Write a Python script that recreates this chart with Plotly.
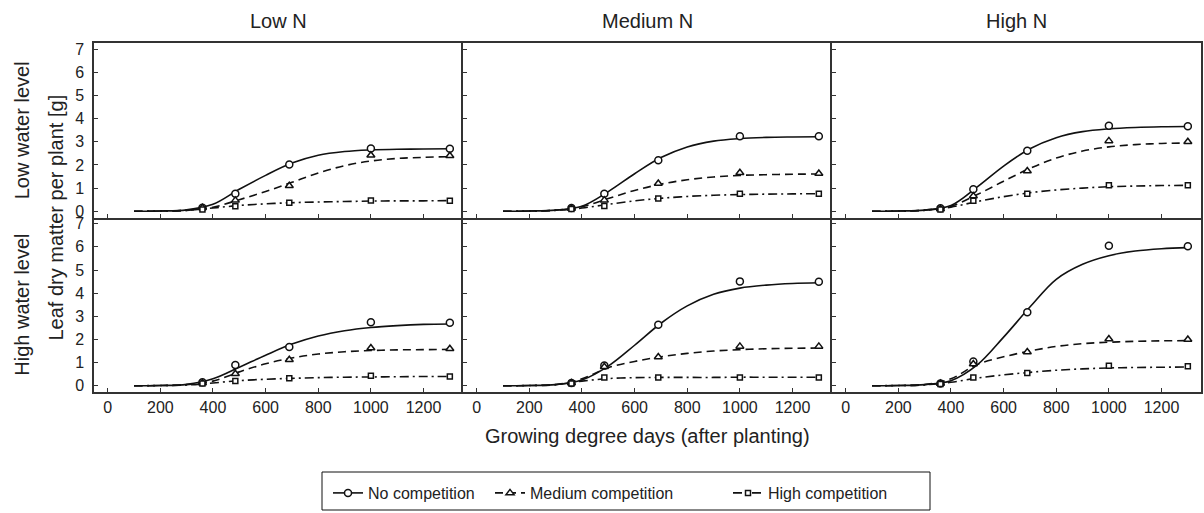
import plotly.graph_objects as go
from plotly.subplots import make_subplots

col_titles = ["Low N", "Medium N", "High N"]
row_titles = ["Low water level", "High water level"]
series_names = ["No competition", "Medium competition", "High competition"]
x_title = "Growing degree days (after planting)"
y_title = "Leaf dry matter per plant [g]"
x_ticks = [0, 200, 400, 600, 800, 1000, 1200]
y_ticks = [0, 1, 2, 3, 4, 5, 6, 7]

obs_x = [360, 485, 690, 1000, 1300]
curve_x = [100, 200, 300, 400, 500, 600, 700, 800, 900, 1000, 1100, 1200, 1300]

# Low water level, Low N
obs_lw_lown_no = [0.15, 0.76, 2.02, 2.71, 2.70]
obs_lw_lown_med = [0.15, 0.47, 1.10, 2.42, 2.40]
obs_lw_lown_high = [0.08, 0.22, 0.37, 0.46, 0.45]
fit_lw_lown_no = [0.0, 0.01, 0.06, 0.30, 0.95, 1.55, 2.08, 2.42, 2.58, 2.65, 2.68, 2.69, 2.70]
fit_lw_lown_med = [0.0, 0.01, 0.04, 0.17, 0.50, 0.85, 1.25, 1.65, 1.97, 2.17, 2.28, 2.33, 2.36]
fit_lw_lown_high = [0.0, 0.01, 0.04, 0.14, 0.25, 0.32, 0.37, 0.40, 0.42, 0.44, 0.45, 0.45, 0.46]

# Low water level, Medium N
obs_lw_medn_no = [0.14, 0.76, 2.20, 3.24, 3.24]
obs_lw_medn_med = [0.12, 0.48, 1.20, 1.66, 1.63]
obs_lw_medn_high = [0.10, 0.23, 0.55, 0.76, 0.76]
fit_lw_medn_no = [0.0, 0.01, 0.05, 0.22, 0.85, 1.62, 2.32, 2.78, 3.03, 3.14, 3.19, 3.21, 3.22]
fit_lw_medn_med = [0.0, 0.01, 0.05, 0.20, 0.55, 0.90, 1.17, 1.36, 1.48, 1.55, 1.58, 1.60, 1.61]
fit_lw_medn_high = [0.0, 0.01, 0.04, 0.14, 0.30, 0.45, 0.56, 0.64, 0.69, 0.72, 0.74, 0.75, 0.76]

# Low water level, High N
obs_lw_highn_no = [0.13, 0.95, 2.61, 3.69, 3.67]
obs_lw_highn_med = [0.10, 0.66, 1.74, 3.04, 3.00]
obs_lw_highn_high = [0.08, 0.45, 0.76, 1.12, 1.12]
fit_lw_highn_no = [0.0, 0.01, 0.05, 0.25, 1.05, 1.95, 2.70, 3.18, 3.44, 3.56, 3.62, 3.65, 3.66]
fit_lw_highn_med = [0.0, 0.01, 0.05, 0.22, 0.72, 1.30, 1.85, 2.30, 2.60, 2.78, 2.88, 2.93, 2.95]
fit_lw_highn_high = [0.0, 0.01, 0.04, 0.18, 0.42, 0.63, 0.80, 0.92, 1.00, 1.06, 1.09, 1.11, 1.12]

# High water level, Low N
obs_hw_lown_no = [0.15, 0.90, 1.67, 2.74, 2.72]
obs_hw_lown_med = [0.12, 0.52, 1.12, 1.63, 1.60]
obs_hw_lown_high = [0.10, 0.20, 0.32, 0.43, 0.40]
fit_hw_lown_no = [0.0, 0.01, 0.06, 0.30, 0.80, 1.32, 1.80, 2.15, 2.38, 2.52, 2.60, 2.65, 2.67]
fit_hw_lown_med = [0.0, 0.01, 0.05, 0.20, 0.60, 0.95, 1.20, 1.37, 1.47, 1.52, 1.55, 1.56, 1.57]
fit_hw_lown_high = [0.0, 0.01, 0.03, 0.12, 0.22, 0.28, 0.32, 0.35, 0.37, 0.38, 0.39, 0.40, 0.40]

# High water level, Medium N
obs_hw_medn_no = [0.12, 0.88, 2.64, 4.51, 4.49]
obs_hw_medn_med = [0.12, 0.82, 1.24, 1.70, 1.70]
obs_hw_medn_high = [0.10, 0.36, 0.36, 0.36, 0.36]
fit_hw_medn_no = [0.0, 0.01, 0.05, 0.25, 0.85, 1.75, 2.70, 3.45, 3.95, 4.22, 4.35, 4.42, 4.45]
fit_hw_medn_med = [0.0, 0.01, 0.05, 0.30, 0.78, 1.05, 1.25, 1.40, 1.50, 1.56, 1.60, 1.62, 1.63]
fit_hw_medn_high = [0.0, 0.01, 0.05, 0.20, 0.31, 0.35, 0.36, 0.36, 0.36, 0.37, 0.37, 0.37, 0.37]

# High water level, High N
obs_hw_highn_no = [0.10, 1.05, 3.18, 6.05, 6.03]
obs_hw_highn_med = [0.10, 0.94, 1.46, 2.02, 2.00]
obs_hw_highn_high = [0.08, 0.36, 0.55, 0.86, 0.84]
fit_hw_highn_no = [0.0, 0.01, 0.05, 0.22, 0.90, 2.10, 3.40, 4.60, 5.25, 5.62, 5.82, 5.92, 5.97]
fit_hw_highn_med = [0.0, 0.01, 0.05, 0.30, 0.92, 1.25, 1.50, 1.70, 1.82, 1.88, 1.92, 1.94, 1.95]
fit_hw_highn_high = [0.0, 0.01, 0.04, 0.15, 0.33, 0.47, 0.58, 0.67, 0.73, 0.77, 0.79, 0.80, 0.81]

panels = [
    (1, 1, [obs_lw_lown_no, obs_lw_lown_med, obs_lw_lown_high], [fit_lw_lown_no, fit_lw_lown_med, fit_lw_lown_high]),
    (1, 2, [obs_lw_medn_no, obs_lw_medn_med, obs_lw_medn_high], [fit_lw_medn_no, fit_lw_medn_med, fit_lw_medn_high]),
    (1, 3, [obs_lw_highn_no, obs_lw_highn_med, obs_lw_highn_high], [fit_lw_highn_no, fit_lw_highn_med, fit_lw_highn_high]),
    (2, 1, [obs_hw_lown_no, obs_hw_lown_med, obs_hw_lown_high], [fit_hw_lown_no, fit_hw_lown_med, fit_hw_lown_high]),
    (2, 2, [obs_hw_medn_no, obs_hw_medn_med, obs_hw_medn_high], [fit_hw_medn_no, fit_hw_medn_med, fit_hw_medn_high]),
    (2, 3, [obs_hw_highn_no, obs_hw_highn_med, obs_hw_highn_high], [fit_hw_highn_no, fit_hw_highn_med, fit_hw_highn_high]),
]

dashes = ["solid", "8px,5px", "9px,4px,2px,4px"]
symbols = ["circle", "triangle-up", "square"]
msizes = [7, 7, 5]
ink = "#111111"
frame = "#333333"
FONT = "Liberation Sans, Arial, sans-serif"

# layout in pixels
W, H = 1204, 513
ML, MR, MT, MB = 94, 3, 43, 121
PW, PH = W - ML - MR, H - MT - MB


def px_x(p):
    return (p - ML) / PW


def px_y(p):
    return (H - MB - p) / PH


fig = make_subplots(rows=2, cols=3, horizontal_spacing=0, vertical_spacing=0)

for r, c, obs_list, fit_list in panels:
    for k in range(3):
        fig.add_trace(go.Scatter(
            x=curve_x, y=fit_list[k], mode="lines",
            line=dict(color=ink, width=1.6, dash=dashes[k], shape="spline", smoothing=1.0),
            showlegend=False, hoverinfo="skip"), row=r, col=c)
    for k in range(3):
        fig.add_trace(go.Scatter(
            x=obs_x, y=obs_list[k], mode="markers",
            marker=dict(symbol=symbols[k], size=msizes[k], color="white",
                        line=dict(color=ink, width=1.5)),
            showlegend=False), row=r, col=c)

legend_widths = [117, 193, 140]
for k in range(3):
    fig.add_trace(go.Scatter(
        x=[None], y=[None], mode="lines+markers", name=series_names[k],
        line=dict(color=ink, width=1.6, dash=dashes[k]),
        marker=dict(symbol=symbols[k], size=msizes[k], color="white",
                    line=dict(color=ink, width=1.5)),
        legendwidth=legend_widths[k], showlegend=True), row=1, col=1)

for r in (1, 2):
    for c in (1, 2, 3):
        fig.update_xaxes(
            range=[-52, 1350], tickvals=x_ticks, ticks="inside", ticklen=4,
            tickcolor=frame, showticklabels=(r == 2), showgrid=False, zeroline=False,
            showline=True, mirror=(r == 1), linecolor=frame, linewidth=1.5,
            tickfont=dict(size=16, color="#222", family=FONT), ticklabelstandoff=0,
            row=r, col=c)
        fig.update_yaxes(
            range=[-0.27, 7.27], tickvals=y_ticks, ticks="inside", ticklen=4,
            tickcolor=frame, showticklabels=(c == 1), showgrid=False, zeroline=False,
            showline=True, mirror=(c == 3), linecolor=frame, linewidth=1.5,
            tickfont=dict(size=16, color="#222", family=FONT), ticklabelstandoff=5,
            row=r, col=c)

annotations = []
for i, t in enumerate(col_titles):
    annotations.append(dict(text=t, x=(i + 0.5) / 3, y=px_y(21), xref="paper", yref="paper",
                            showarrow=False, xanchor="center", yanchor="middle",
                            font=dict(size=20, color="#222", family=FONT)))
for i, t in enumerate(row_titles):
    annotations.append(dict(text=t, x=px_x(22), y=0.75 - 0.5 * i, xref="paper", yref="paper",
                            showarrow=False, xanchor="center", yanchor="middle", textangle=-90,
                            font=dict(size=20, color="#222", family=FONT)))
annotations.append(dict(text=y_title, x=px_x(55), y=0.5, xref="paper", yref="paper",
                        showarrow=False, xanchor="center", yanchor="middle", textangle=-90,
                        font=dict(size=20, color="#222", family=FONT)))
annotations.append(dict(text=x_title, x=0.5, y=px_y(436), xref="paper", yref="paper",
                        showarrow=False, xanchor="center", yanchor="middle",
                        font=dict(size=20, color="#222", family=FONT)))

legend_box = dict(type="rect", xref="paper", yref="paper",
                  x0=px_x(322), x1=px_x(930), y0=px_y(510), y1=px_y(472),
                  line=dict(color="#111", width=1), fillcolor="rgba(0,0,0,0)")

fig.update_layout(
    width=W, height=H,
    margin=dict(l=ML, r=MR, t=MT, b=MB, autoexpand=False),
    paper_bgcolor="white", plot_bgcolor="white",
    font=dict(family=FONT, color="#222"),
    annotations=annotations,
    shapes=[legend_box],
    legend=dict(orientation="h", x=px_x(328), y=px_y(476), xanchor="left", yanchor="top",
                borderwidth=0, itemwidth=30, bgcolor="rgba(0,0,0,0)",
                font=dict(size=16, color="#222", family=FONT)),
)

fig.write_html("out.html", config={"displayModeBar": False},
               post_script="document.body.style.margin='0px';")
